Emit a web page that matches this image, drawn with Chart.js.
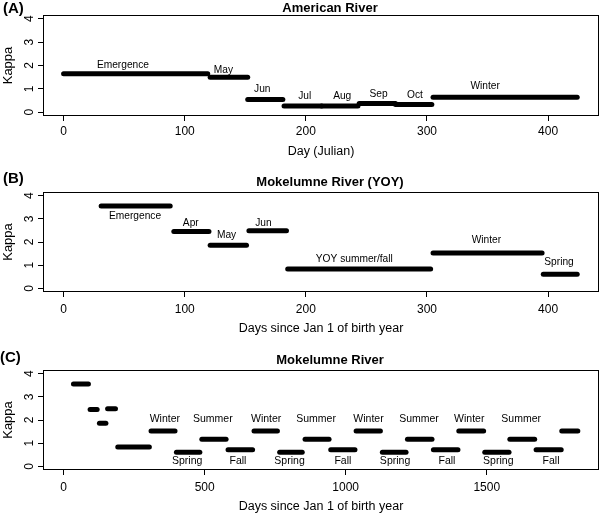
<!DOCTYPE html>
<html>
<head>
<meta charset="utf-8">
<script src="https://cdn.jsdelivr.net/npm/chart.js@4.4.1/dist/chart.umd.min.js"></script>
<style>
  html, body { margin: 0; padding: 0; background: #fff; }
  .panel { position: absolute; left: 0; width: 600px; height: 171px; }
</style>
</head>
<body>
<div class="panel" style="top:0"><canvas id="chartA" width="600" height="171"></canvas></div>
<div class="panel" style="top:171px"><canvas id="chartB" width="600" height="171"></canvas></div>
<div class="panel" style="top:342px"><canvas id="chartC" width="600" height="171"></canvas></div>
<script>
// ---- data ----
const kappaTicks = [0, 1, 2, 3, 4]

// (A) American River
const aPeriods = ['Emergence', 'May', 'Jun', 'Jul', 'Aug', 'Sep', 'Oct', 'Winter']
const aStart = [0, 121, 152, 182, 213, 244, 274, 305]
const aEnd = [119, 152, 181, 213, 243, 274, 304, 424]
const aKappa = [1.65, 1.5, 0.55, 0.27, 0.27, 0.38, 0.33, 0.645]
const aDayTicks = [0, 100, 200, 300, 400]

// (B) Mokelumne River (YOY)
const bPeriods = ['Emergence', 'Apr', 'May', 'Jun', 'YOY summer/fall', 'Winter', 'Spring']
const bStart = [31, 91, 121, 153, 185, 305, 396]
const bEnd = [88, 120, 151, 184, 303, 395, 424]
const bKappa = [3.55, 2.45, 1.86, 2.49, 0.83, 1.52, 0.61]
const bDayTicks = [0, 100, 200, 300, 400]

// (C) Mokelumne River, whole life
const cPeriods = ['Emergence', 'Apr', 'May', 'Jun', 'YOY summer/fall',
  'Winter', 'Spring', 'Summer', 'Fall', 'Winter', 'Spring', 'Summer', 'Fall',
  'Winter', 'Spring', 'Summer', 'Fall', 'Winter', 'Spring', 'Summer', 'Fall', 'Winter']
const cStart = [35, 94, 127, 156, 192, 310, 400, 490, 583, 675, 766, 856, 947,
  1037, 1130, 1219, 1311, 1401, 1493, 1582, 1675, 1766]
const cEnd = [88, 119, 150, 184, 304, 395, 483, 576, 670, 758, 846, 941, 1033,
  1123, 1214, 1306, 1398, 1489, 1579, 1670, 1764, 1823]
const cKappa = [3.55, 2.45, 1.86, 2.49, 0.83, 1.52, 0.61, 1.17, 0.72, 1.52, 0.61, 1.17, 0.72,
  1.52, 0.61, 1.17, 0.72, 1.52, 0.61, 1.17, 0.72, 1.52]
const cDayTicks = [0, 500, 1000, 1500]

// ---- where the period names sit (data units, like text() in R) ----
const aNotes = {
  text: aPeriods,
  x: [49, 132, 164, 199, 230, 260, 290, 348],
  y: [2.03, 1.82, 1.0, 0.7, 0.7, 0.77, 0.71, 1.12]
}
const bNotes = {
  text: bPeriods,
  x: [59, 105, 134.5, 165, 240, 349, 409],
  y: [3.13, 2.8, 2.29, 2.8, 1.24, 2.07, 1.13]
}
const cNotes = {
  text: cPeriods.slice(5, 21),
  x: [359, 438, 529, 618, 718, 801, 895, 990, 1081, 1175, 1260, 1359, 1438, 1541, 1622, 1728],
  y: [2.05, 0.22, 2.05, 0.22, 2.05, 0.22, 2.05, 0.22, 2.05, 0.22, 2.05, 0.22, 2.05, 0.22, 2.05, 0.22]
}

const FONT = "'Liberation Sans', Arial, Helvetica, sans-serif"

const segments = (start, end, kappa) => start.map((s, i) => ({
  data: [{x: s, y: kappa[i]}, {x: end[i], y: kappa[i]}],
  showLine: true,
  borderColor: '#000',
  borderWidth: 5,
  borderCapStyle: 'round',
  pointRadius: 0,
  fill: false
}))

// plot box, panel tag and bold title (R style)
const decor = {
  id: 'decor',
  afterDraw(chart, args, opts) {
    const {ctx, chartArea: a} = chart
    ctx.save()
    ctx.strokeStyle = '#000'
    ctx.lineWidth = 1
    ctx.strokeRect(a.left + 0.5, a.top + 0.5, a.right - a.left - 1, a.bottom - a.top - 1)
    ctx.fillStyle = '#000'
    ctx.textBaseline = 'middle'
    ctx.font = 'bold 15px ' + FONT
    ctx.textAlign = 'left'
    ctx.fillText(opts.tag, opts.tagX, opts.tagY)
    ctx.font = 'bold 13px ' + FONT
    ctx.textAlign = 'center'
    ctx.fillText(opts.title, (a.left + a.right) / 2 + 9, opts.titleY)
    ctx.restore()
  }
}

const notes = {
  id: 'notes',
  afterDatasetsDraw(chart, args, opts) {
    const {ctx, scales: {x, y}} = chart
    ctx.save()
    ctx.fillStyle = '#000'
    ctx.font = opts.size + 'px ' + FONT
    ctx.textAlign = 'center'
    ctx.textBaseline = 'middle'
    opts.text.forEach((t, i) => {
      ctx.fillText(t, x.getPixelForValue(opts.x[i]), y.getPixelForValue(opts.y[i]))
    })
    ctx.restore()
  }
}

function panel(id, cfg) {
  return new Chart(document.getElementById(id), {
    type: 'scatter',
    data: {datasets: segments(cfg.start, cfg.end, cfg.kappa)},
    options: {
      responsive: false,
      animation: false,
      devicePixelRatio: 1,
      layout: {padding: {top: cfg.top, right: 1, bottom: 0, left: 0}},
      plugins: {
        legend: {display: false},
        tooltip: {enabled: false},
        decor: {tag: cfg.tag, tagX: cfg.tagX, tagY: cfg.tagY, title: cfg.title, titleY: cfg.titleY},
        notes: Object.assign({size: cfg.noteSize}, cfg.notes)
      },
      scales: {
        x: {
          type: 'linear',
          min: cfg.xMin,
          max: cfg.xMax,
          afterBuildTicks: s => { s.ticks = cfg.xTicks.map(v => ({value: v})) },
          afterFit: s => { s.height = cfg.xHeight },
          ticks: {color: '#000', font: {family: FONT, size: 12}, padding: cfg.xTickPad,
            maxRotation: 0, callback: v => String(v)},
          grid: {drawOnChartArea: false, drawTicks: true, tickLength: 5, color: '#000'},
          border: {display: false},
          title: {display: true, text: cfg.xTitle, color: '#000',
            font: {family: FONT, size: 12.5, lineHeight: 1}, padding: {top: 0, bottom: cfg.xTitlePad}}
        },
        y: {
          min: -0.16,
          max: 4.16,
          afterBuildTicks: s => { s.ticks = kappaTicks.map(v => ({value: v})) },
          afterFit: s => { s.width = 43 },
          ticks: {color: '#000', font: {family: FONT, size: 12}, padding: 5,
            minRotation: 90, maxRotation: 90, crossAlign: 'center', callback: v => String(v)},
          grid: {drawOnChartArea: false, drawTicks: true, tickLength: 5, color: '#000'},
          border: {display: false},
          title: {display: true, text: 'Kappa', color: '#000',
            font: {family: FONT, size: 13, lineHeight: 1}, padding: {top: 1.5, bottom: 0}}
        }
      }
    },
    plugins: [decor, notes]
  })
}

panel('chartA', {
  start: aStart, end: aEnd, kappa: aKappa, notes: aNotes, noteSize: 10.2,
  xMin: -17, xMax: 442, xTicks: aDayTicks, xTitle: 'Day (Julian)',
  top: 15, xHeight: 55, xTickPad: 3.3, xTitlePad: 13.5,
  tag: '(A)', tagX: 3, tagY: 9, title: 'American River', titleY: 8
})

panel('chartB', {
  start: bStart, end: bEnd, kappa: bKappa, notes: bNotes, noteSize: 10.2,
  xMin: -17, xMax: 442, xTicks: bDayTicks, xTitle: 'Days since Jan 1 of birth year',
  top: 21, xHeight: 50, xTickPad: 5.5, xTitlePad: 7,
  tag: '(B)', tagX: 3, tagY: 8, title: 'Mokelumne River (YOY)', titleY: 11.5
})

panel('chartC', {
  start: cStart, end: cEnd, kappa: cKappa, notes: cNotes, noteSize: 10.5,
  xMin: -73, xMax: 1898, xTicks: cDayTicks, xTitle: 'Days since Jan 1 of birth year',
  top: 28, xHeight: 43, xTickPad: 5.8, xTitlePad: 0,
  tag: '(C)', tagX: 0, tagY: 15.8, title: 'Mokelumne River', titleY: 18.5
})
</script>
</body>
</html>
